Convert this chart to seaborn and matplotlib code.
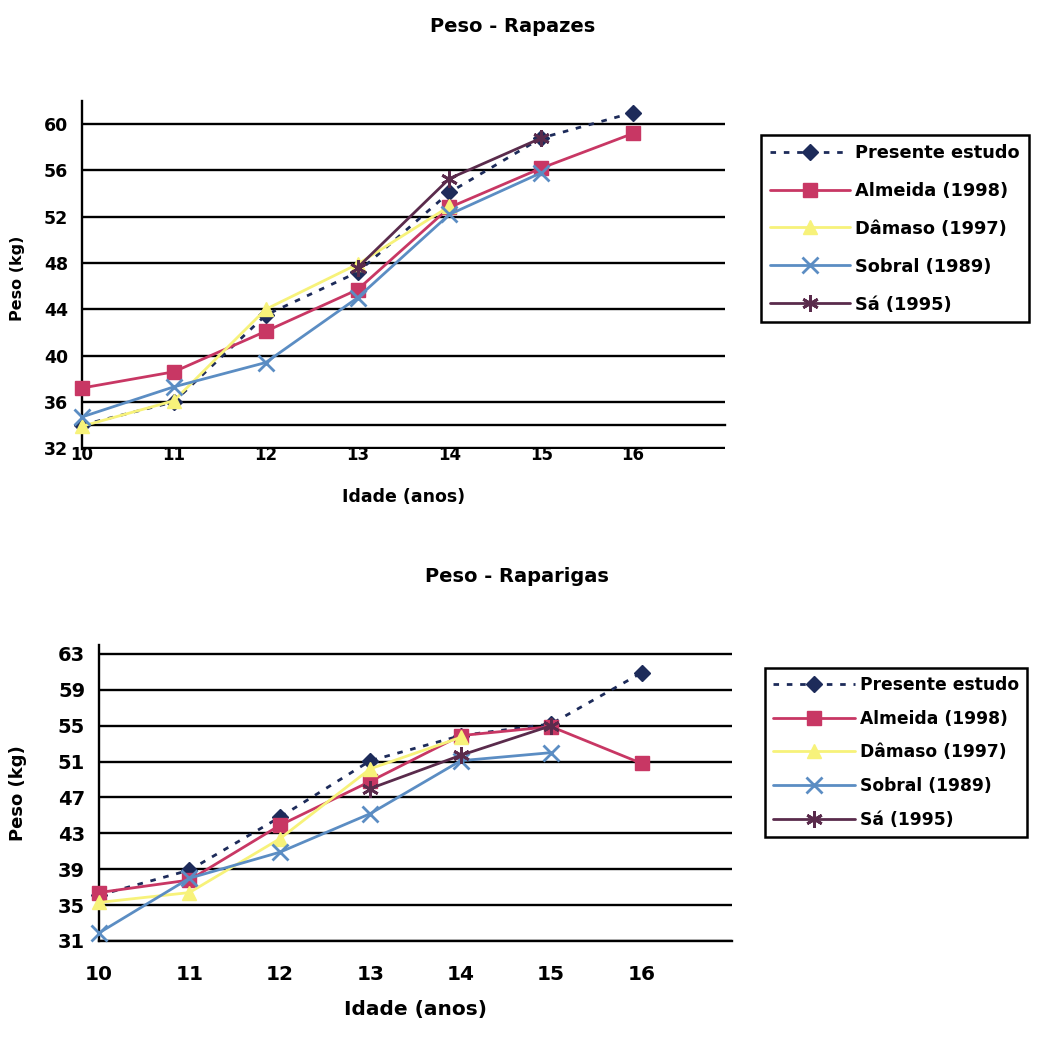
import matplotlib
matplotlib.use("Agg")
import matplotlib.pyplot as plt
import seaborn as sns
import numpy as np
import pandas as pd

# ---------------- data ----------------
idades = [10, 11, 12, 13, 14, 15, 16]
series_names = ["Presente estudo", "Almeida (1998)", "Dâmaso (1997)", "Sobral (1989)", "Sá (1995)"]

# Rapazes (boys)
rap_presente = [34.0, 36.0, 43.5, 47.2, 54.1, 58.8, 61.0]
rap_almeida = [37.2, 38.6, 42.1, 45.7, 52.8, 56.2, 59.2]
rap_damaso = [33.9, 36.1, 44.0, 47.9, 52.9, None, None]
rap_sobral = [34.7, 37.3, 39.4, 45.0, 52.2, 55.8, None]
rap_sa = [None, None, None, 47.6, 55.3, 58.8, None]

# Raparigas (girls)
rpg_presente = [36.1, 38.9, 44.8, 51.1, 53.9, 55.2, 60.9]
rpg_almeida = [36.4, 37.8, 43.9, 48.8, 53.9, 54.9, 50.8]
rpg_damaso = [35.3, 36.4, 42.4, 50.2, 53.7, None, None]
rpg_sobral = [31.9, 38.0, 40.9, 45.2, 51.1, 52.0, None]
rpg_sa = [None, None, None, 48.0, 51.7, 55.0, None]

top_ticks = [32, 36, 40, 44, 48, 52, 56, 60]
bot_ticks = [31, 35, 39, 43, 47, 51, 55, 59, 63]
x_ticks = [10, 11, 12, 13, 14, 15, 16, 17]
x_labels = ["10", "11", "12", "13", "14", "15", "16", ""]

# ---------------- styles ----------------
styles = {
    "Presente estudo": dict(color="#1d2b5a", marker="D", ms=8, ls=(0, (2.0, 2.8)), lw=2.0),
    "Almeida (1998)": dict(color="#c83764", marker="s", ms=10, ls="-", lw=2.0),
    "Dâmaso (1997)": dict(color="#f7f27a", marker="^", ms=10, ls="-", lw=2.0),
    "Sobral (1989)": dict(color="#5b8dc3", marker="x", ms=11, ls="-", lw=2.0),
    "Sá (1995)": dict(color="#5a2b4c", marker=(6, 2, 0), ms=12, ls="-", lw=2.0),
}

sns.set_style("white")
plt.rcParams["font.family"] = ["DejaVu Sans"]
plt.rcParams["font.weight"] = "bold"
for k in ["text.color", "axes.labelcolor", "xtick.color", "ytick.color"]:
    plt.rcParams[k] = "black"

W, H = 1038, 1041
fig = plt.figure(figsize=(W / 100, H / 100), dpi=100)


def make_df(vals_list):
    rows = []
    for name, vals in zip(series_names, vals_list):
        for x, v in zip(idades, vals):
            if v is not None:
                rows.append({"Idade": x, "Peso": v, "Serie": name})
    return pd.DataFrame(rows)


def draw(ax, df):
    for name in series_names:
        st = styles[name]
        sub = df[df["Serie"] == name]
        mew = 2.0 if (st["marker"] == "x" or isinstance(st["marker"], tuple)) else 1.0
        sns.lineplot(data=sub, x="Idade", y="Peso", ax=ax, color=st["color"],
                     marker=st["marker"], markersize=st["ms"], linestyle=st["ls"],
                     linewidth=st["lw"], markeredgecolor=st["color"],
                     markeredgewidth=mew, estimator=None, sort=False,
                     label=name, legend=False, zorder=3, clip_on=False)


def px_axes(left, top, right, bottom):
    return fig.add_axes([left / W, 1 - bottom / H, (right - left) / W, (bottom - top) / H])


def style_legend(leg):
    leg.get_frame().set_linewidth(1.8)
    for t in leg.get_texts():
        t.set_fontweight("bold")
        t.set_color("black")


# ---------------- top chart ----------------
ax1 = px_axes(82, 101, 725, 449)
df_top = make_df([rap_presente, rap_almeida, rap_damaso, rap_sobral, rap_sa])
draw(ax1, df_top)
ax1.set_xlim(10, 17)
ax1.set_ylim(31.93, 62)
ax1.set_yticks(top_ticks)
ax1.set_xticks(x_ticks)
ax1.set_xticklabels(x_labels)
ax1.yaxis.grid(True, color="black", lw=1.7, zorder=0)
ax1.xaxis.grid(False)
for s in ["top", "right"]:
    ax1.spines[s].set_visible(False)
ax1.spines["left"].set_color("black")
ax1.spines["left"].set_linewidth(1.7)
ax1.spines["bottom"].set_position(("data", 34))
ax1.spines["bottom"].set_color("black")
ax1.spines["bottom"].set_linewidth(1.7)
ax1.tick_params(axis="x", direction="out", length=6, width=1.7, color="black",
                pad=9, labelsize=12)
ax1.tick_params(axis="y", direction="out", length=9, width=1.7, color="black",
                pad=1, labelsize=12.5)
ax1.set_xlabel("Idade (anos)", fontsize=12.5, fontweight="bold")
ax1.set_ylabel("Peso (kg)", fontsize=11.5, fontweight="bold")
ax1.xaxis.set_label_coords(0.5, -0.112)
ax1.yaxis.set_label_coords(-0.088, 0.49)
fig.text(513 / W, 1 - 26 / H, "Peso - Rapazes", ha="center", va="center",
         fontsize=14, fontweight="bold")

h, l = ax1.get_legend_handles_labels()
leg1 = fig.legend(h, l, loc="upper left", bbox_to_anchor=(761 / W, 1 - 135 / H),
                  frameon=True, fancybox=False, edgecolor="black", framealpha=1,
                  fontsize=12.8, handlelength=4.5, handletextpad=0.3,
                  labelspacing=1.12, borderpad=0.5, borderaxespad=0, numpoints=1)
style_legend(leg1)

# ---------------- bottom chart ----------------
ax2 = px_axes(99, 645, 732, 941)
df_bot = make_df([rpg_presente, rpg_almeida, rpg_damaso, rpg_sobral, rpg_sa])
draw(ax2, df_bot)
ax2.set_xlim(10, 17)
ax2.set_ylim(31, 64)
ax2.set_yticks(bot_ticks)
ax2.set_xticks(x_ticks)
ax2.set_xticklabels(x_labels)
ax2.yaxis.grid(True, color="black", lw=1.7, zorder=0)
ax2.xaxis.grid(False)
for s in ["top", "right"]:
    ax2.spines[s].set_visible(False)
for s in ["left", "bottom"]:
    ax2.spines[s].set_color("black")
    ax2.spines[s].set_linewidth(1.7)
ax2.tick_params(axis="x", direction="out", length=7, width=1.7, color="black",
                pad=10, labelsize=14.5)
ax2.tick_params(axis="y", direction="out", length=8, width=1.7, color="black",
                pad=2, labelsize=14)
ax2.set_xlabel("Idade (anos)", fontsize=14.5, fontweight="bold")
ax2.set_ylabel("Peso (kg)", fontsize=13, fontweight="bold")
ax2.xaxis.set_label_coords(0.5, -0.2)
ax2.yaxis.set_label_coords(-0.113, 0.5)
fig.text(517 / W, 1 - 577 / H, "Peso - Raparigas", ha="center", va="center",
         fontsize=14, fontweight="bold")

h, l = ax2.get_legend_handles_labels()
leg2 = fig.legend(h, l, loc="upper left", bbox_to_anchor=(765 / W, 1 - 668 / H),
                  frameon=True, fancybox=False, edgecolor="black", framealpha=1,
                  fontsize=12.3, handlelength=4.8, handletextpad=0.3,
                  labelspacing=0.93, borderpad=0.45, borderaxespad=0, numpoints=1)
style_legend(leg2)

for ax in (ax1, ax2):
    for lab in ax.get_xticklabels() + ax.get_yticklabels():
        lab.set_fontweight("bold")

fig.savefig("out.png", dpi=100, facecolor="white")
